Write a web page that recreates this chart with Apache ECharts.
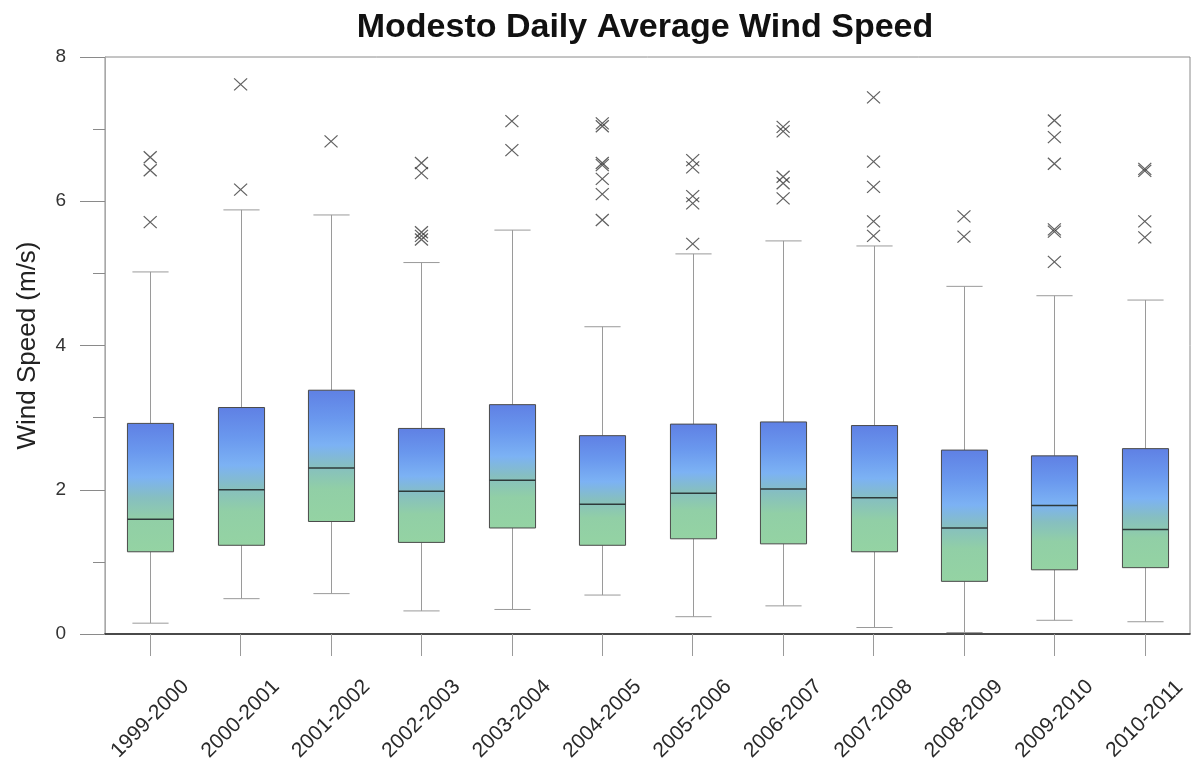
<!DOCTYPE html>
<html>
<head>
<meta charset="utf-8">
<script src="https://cdn.jsdelivr.net/npm/echarts@6/dist/echarts.min.js"></script>
<style>
  html, body { margin: 0; padding: 0; background: #ffffff; }
  #chart { width: 1192px; height: 771px; }
</style>
</head>
<body>
<div id="chart"></div>
<script>
// Season labels along the horizontal axis
const categories = ['1999-2000', '2000-2001', '2001-2002', '2002-2003', '2003-2004', '2004-2005',
  '2005-2006', '2006-2007', '2007-2008', '2008-2009', '2009-2010', '2010-2011'];

// Five-number summaries of daily average wind speed (m/s)
const lowWhisker  = [0.15, 0.49, 0.56, 0.32, 0.34, 0.54, 0.24, 0.39, 0.09, 0.02, 0.19, 0.17];
const quartile1   = [1.14, 1.23, 1.56, 1.27, 1.47, 1.23, 1.32, 1.25, 1.14, 0.73, 0.89, 0.92];
const medians     = [1.59, 2.00, 2.30, 1.98, 2.13, 1.80, 1.95, 2.01, 1.89, 1.47, 1.78, 1.45];
const quartile3   = [2.92, 3.14, 3.38, 2.85, 3.18, 2.75, 2.91, 2.94, 2.89, 2.55, 2.47, 2.57];
const highWhisker = [5.02, 5.88, 5.81, 5.15, 5.60, 4.26, 5.27, 5.45, 5.38, 4.82, 4.69, 4.63];

// Outlying days per season (m/s)
const outliers = [
  [5.71, 6.43, 6.61],
  [6.16, 7.62],
  [6.83],
  [5.47, 5.52, 5.57, 6.39, 6.53],
  [6.71, 7.11],
  [5.74, 6.10, 6.31, 6.50, 6.53, 7.04, 7.08],
  [5.41, 5.97, 6.07, 6.47, 6.57],
  [6.04, 6.25, 6.34, 6.97, 7.03],
  [5.52, 5.72, 6.20, 6.55, 7.44],
  [5.51, 5.79],
  [5.16, 5.58, 5.61, 6.52, 6.89, 7.12],
  [5.50, 5.72, 6.42, 6.45]
];

// Y axis tick values
const yMin = 0, yMax = 8, yStep = 2;

const boxData = categories.map((c, i) =>
  [i, lowWhisker[i], quartile1[i], medians[i], quartile3[i], highWhisker[i]]);
const outlierData = [];
outliers.forEach((list, i) => list.forEach(v => outlierData.push([i, v])));

const FONT = '"Liberation Sans", Arial, Helvetica, sans-serif';

function renderBox(params, api) {
  const x = api.value(0);
  const pLow = api.coord([x, api.value(1)]);
  const pQ1 = api.coord([x, api.value(2)]);
  const pMed = api.coord([x, api.value(3)]);
  const pQ3 = api.coord([x, api.value(4)]);
  const pHigh = api.coord([x, api.value(5)]);
  const band = api.size([1, 0])[0];
  const bw = band * 0.51;
  const cw = band * 0.40;
  const cx = Math.round(pMed[0]) + 0.5;
  const whiskerStyle = { stroke: '#9a9a9a', lineWidth: 1 };
  return {
    type: 'group',
    children: [
      { type: 'line', shape: { x1: cx, y1: pHigh[1], x2: cx, y2: pQ3[1] }, style: whiskerStyle },
      { type: 'line', shape: { x1: cx, y1: pQ1[1], x2: cx, y2: pLow[1] }, style: whiskerStyle },
      { type: 'line', shape: { x1: cx - cw / 2, y1: pHigh[1], x2: cx + cw / 2, y2: pHigh[1] }, style: whiskerStyle },
      { type: 'line', shape: { x1: cx - cw / 2, y1: pLow[1], x2: cx + cw / 2, y2: pLow[1] }, style: whiskerStyle },
      {
        type: 'rect',
        shape: { x: cx - bw / 2, y: pQ3[1], width: bw, height: pQ1[1] - pQ3[1] },
        style: {
          fill: new echarts.graphic.LinearGradient(0, 0, 0, 1, [
            { offset: 0, color: '#5f80e4' },
            { offset: 0.22, color: '#6a98ee' },
            { offset: 0.42, color: '#7cb2f4' },
            { offset: 0.58, color: '#86bfc0' },
            { offset: 0.75, color: '#91cfa6' },
            { offset: 1, color: '#94d3a3' }
          ]),
          stroke: '#4a4a4a',
          lineWidth: 1
        }
      },
      { type: 'line', shape: { x1: cx - bw / 2, y1: pMed[1], x2: cx + bw / 2, y2: pMed[1] },
        style: { stroke: '#2e3a3a', lineWidth: 1.5 } }
    ]
  };
}

const chart = echarts.init(document.getElementById('chart'), null, { renderer: 'canvas' });
chart.setOption({
  animation: false,
  backgroundColor: '#ffffff',
  textStyle: { fontFamily: FONT },
  title: {
    text: 'Modesto Daily Average Wind Speed',
    left: 640,
    textAlign: 'center',
    top: 6,
    textStyle: { fontFamily: FONT, fontSize: 34, fontWeight: 'bold', color: '#111' }
  },
  grid: {
    left: 105, right: 2, top: 57, bottom: 137,
    show: true, borderColor: '#8a8a8a', borderWidth: 1, backgroundColor: 'transparent'
  },
  xAxis: {
    type: 'category',
    data: categories,
    boundaryGap: true,
    axisLine: { show: true, lineStyle: { color: '#222', width: 1.6 } },
    axisTick: { show: true, alignWithLabel: true, length: 22, lineStyle: { color: '#9a9a9a' } },
    axisLabel: {
      rotate: 45, align: 'center', verticalAlign: 'middle', margin: 85,
      fontFamily: FONT, fontSize: 21, color: '#2a2a2a', interval: 0
    },
    splitLine: { show: false }
  },
  yAxis: {
    type: 'value',
    min: yMin, max: yMax, interval: yStep,
    name: 'Wind Speed (m/s)',
    nameLocation: 'middle',
    nameGap: 64,
    nameTextStyle: { fontFamily: FONT, fontSize: 26, color: '#222' },
    axisLine: { show: true, lineStyle: { color: '#a8a8a8', width: 1 } },
    axisTick: { show: true, length: 25, lineStyle: { color: '#8a8a8a' } },
    minorTick: { show: true, splitNumber: 2, length: 12, lineStyle: { color: '#8a8a8a' } },
    axisLabel: { fontFamily: FONT, fontSize: 19, color: '#333', margin: 39 },
    splitLine: { show: false }
  },
  series: [
    {
      type: 'custom',
      renderItem: renderBox,
      encode: { x: 0, y: [1, 2, 3, 4, 5] },
      data: boxData,
      z: 2
    },
    {
      type: 'scatter',
      data: outlierData,
      symbol: 'path://M0,0L10,10M10,0L0,10',
      symbolSize: [13, 12],
      itemStyle: { color: 'transparent', borderColor: '#3a3a3a', borderWidth: 1.2 },
      z: 3
    }
  ]
});
</script>
</body>
</html>
